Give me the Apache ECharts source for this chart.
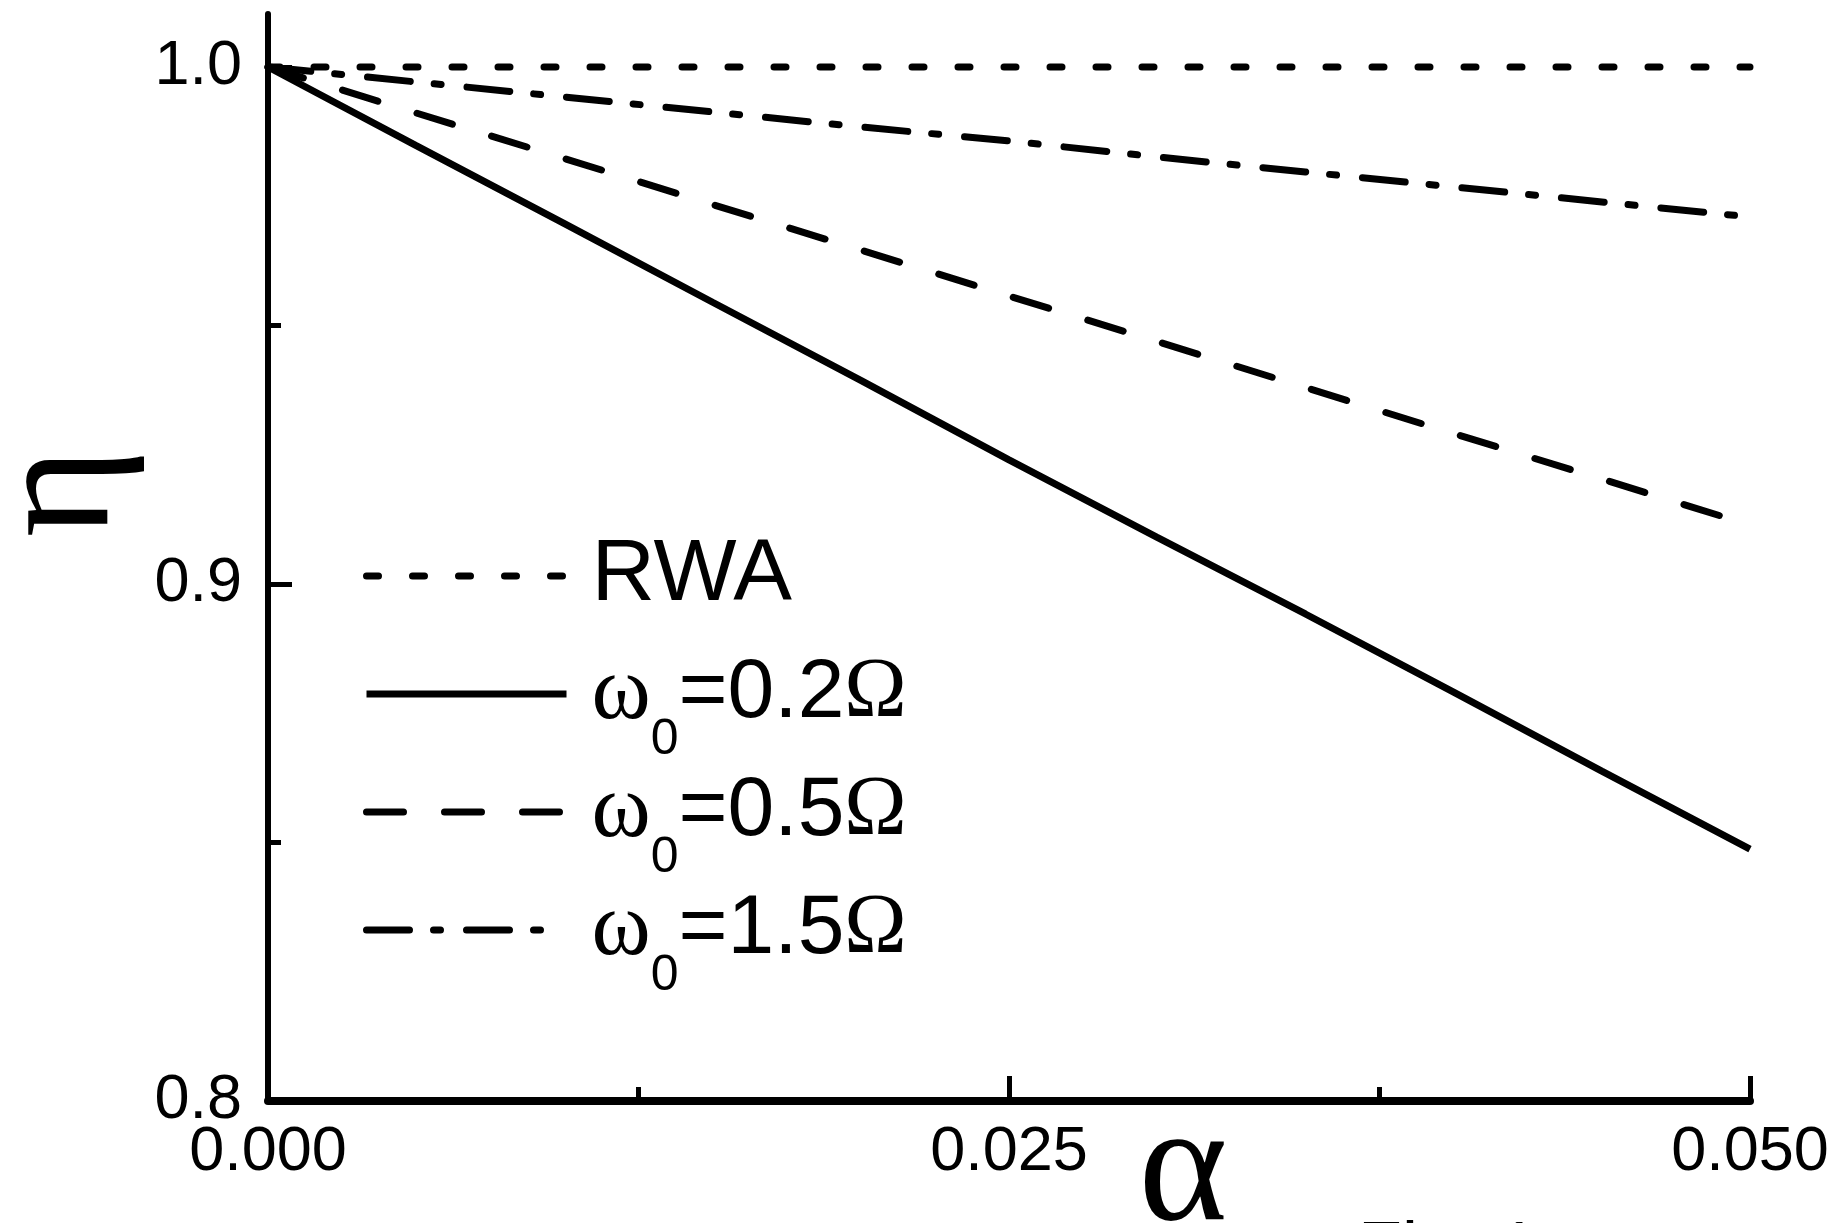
<!DOCTYPE html>
<html>
<head>
<meta charset="utf-8">
<script src="https://cdn.jsdelivr.net/npm/echarts@6/dist/echarts.min.js"></script>
<style>
html,body{margin:0;padding:0;background:#fff;}
#chart{width:1836px;height:1223px;}
</style>
</head>
<body>
<div id="chart"></div>
<script>
// ---- data ----
const alpha = [0, 0.005, 0.01, 0.015, 0.02, 0.025, 0.03, 0.035, 0.04, 0.045, 0.05];
const etaRWA = [1.0, 1.0, 1.0, 1.0, 1.0, 1.0, 1.0, 1.0, 1.0, 1.0, 1.0];
const eta02 = [1.0, 0.9848, 0.9697, 0.9545, 0.9394, 0.9240, 0.9090, 0.8942, 0.8791, 0.8638, 0.8487];
const eta05 = [1.0, 0.9911, 0.9823, 0.9734, 0.9646, 0.9557, 0.9469, 0.9380, 0.9291, 0.9203, 0.9114];
const eta15 = [1.0, 0.9971, 0.9942, 0.9913, 0.9884, 0.9857, 0.9826, 0.9797, 0.9768, 0.9739, 0.9710];
const seriesNames = ['RWA', 'ω0=0.2Ω', 'ω0=0.5Ω', 'ω0=1.5Ω'];
const legendRich = {
  'RWA': '{r|RWA}{s| }',
  'ω0=0.2Ω': '{g|ω}{s|0}{b|=0.2}{o|Ω}',
  'ω0=0.5Ω': '{g|ω}{s|0}{b|=0.5}{o|Ω}',
  'ω0=1.5Ω': '{g|ω}{s|0}{b|=1.5}{o|Ω}'
};
const yMajor = [0.8, 0.9, 1.0];
const yMinor = [0.85, 0.95];
const xMajor = [0, 0.025, 0.05];
const xMinor = [0.0125, 0.0375];

const SANS = '"Liberation Sans", Arial, sans-serif';
const SERIF = '"Liberation Serif", "Times New Roman", serif';

function pts(ys) { return alpha.map((a, i) => [a, ys[i]]); }

const chart = echarts.init(document.getElementById('chart'), null, {renderer: 'canvas'});

const yBase = {
  type: 'value', min: 0.8, max: 1.01025, position: 'left',
  splitLine: {show: false}
};
const xBase = {
  type: 'value', min: 0, max: 0.05, position: 'bottom',
  splitLine: {show: false}
};

const option = {
  animation: false,
  backgroundColor: '#ffffff',
  grid: {left: 268, right: 86, top: 14, bottom: 122, containLabel: false, outerBoundsMode: 'none'},
  xAxis: [
    Object.assign({}, xBase, {
      axisLine: {show: true, lineStyle: {color: '#000', width: 8}},
      axisTick: {show: true, inside: true, length: 25, customValues: xMajor, lineStyle: {color: '#000', width: 5}},
      axisLabel: {show: true, customValues: xMajor, formatter: v => v.toFixed(3), color: '#000',
                  fontSize: 63, fontFamily: SANS, margin: 20},
      name: 'α', nameLocation: 'middle', nameGap: 43, nameMoveOverlap: false,
      nameTextStyle: {fontFamily: SERIF, fontSize: 170, color: '#000', lineHeight: 60, padding: [0, 0, 0, 348]}
    }),
    Object.assign({}, xBase, {
      axisLine: {show: false},
      axisTick: {show: true, inside: true, length: 14, customValues: xMinor, lineStyle: {color: '#000', width: 5}},
      axisLabel: {show: false}
    })
  ],
  yAxis: [
    Object.assign({}, yBase, {
      axisLine: {show: true, lineStyle: {color: '#000', width: 6, cap: 'round'}},
      axisTick: {show: true, inside: true, length: 24, customValues: yMajor, lineStyle: {color: '#000', width: 5}},
      axisLabel: {show: true, customValues: yMajor, formatter: v => v.toFixed(1), color: '#000',
                  fontSize: 63, fontFamily: SANS, margin: 26},
      name: 'η', nameLocation: 'middle', nameRotate: 90, nameGap: 156, nameMoveOverlap: false,
      nameTextStyle: {fontFamily: SERIF, fontSize: 172, color: '#000', lineHeight: 100, padding: [0, 0, 0, 130]}
    }),
    Object.assign({}, yBase, {
      axisLine: {show: false},
      axisTick: {show: true, inside: true, length: 13, customValues: yMinor, lineStyle: {color: '#000', width: 5}},
      axisLabel: {show: false}
    })
  ],
  legend: {
    orient: 'vertical', left: 363, top: 505, padding: 0, itemGap: -24,
    itemWidth: 200, itemHeight: 14, selectedMode: false,
    data: seriesNames,
    formatter: name => legendRich[name],
    lineStyle: {width: 7},
    itemStyle: {opacity: 0},
    textStyle: {
      color: '#000',
      rich: {
        r: {fontFamily: SANS, fontSize: 88, lineHeight: 82, padding: [0, 0, 0, 20], color: '#000'},
        g: {fontFamily: SERIF, fontSize: 90, lineHeight: 82, padding: [0, 0, 0, 20], color: '#000'},
        s: {fontFamily: SANS, fontSize: 50, lineHeight: 30, padding: [92, 0, 0, 0], color: '#000'},
        b: {fontFamily: SANS, fontSize: 84, lineHeight: 82, color: '#000'},
        o: {fontFamily: SERIF, fontSize: 84, lineHeight: 82, color: '#000'}
      }
    }
  },
  graphic: [{
    type: 'text', left: 1358, top: 1216, silent: true,
    style: {text: 'Fig. 1', font: '72px ' + SANS, fill: '#000'}
  }],
  series: [
    {name: seriesNames[0], type: 'line', xAxisIndex: 0, yAxisIndex: 0, data: pts(etaRWA), showSymbol: false, symbol: 'none',
     lineStyle: {color: '#000', width: 7, type: [12, 34], cap: 'round'}, itemStyle: {color: '#000'}},
    {name: seriesNames[1], type: 'line', xAxisIndex: 0, yAxisIndex: 0, data: pts(eta02), showSymbol: false, symbol: 'none',
     lineStyle: {color: '#000', width: 7, type: 'solid', cap: 'butt'}, itemStyle: {color: '#000'}},
    {name: seriesNames[2], type: 'line', xAxisIndex: 0, yAxisIndex: 0, data: pts(eta05), showSymbol: false, symbol: 'none',
     lineStyle: {color: '#000', width: 7, type: [37, 41], cap: 'round'}, itemStyle: {color: '#000'}},
    {name: seriesNames[3], type: 'line', xAxisIndex: 0, yAxisIndex: 0, data: pts(eta15), showSymbol: false, symbol: 'none',
     lineStyle: {color: '#000', width: 7, type: [43, 24, 7, 26], cap: 'round'}, itemStyle: {color: '#000'}}
  ]
};
chart.setOption(option);
</script>
</body>
</html>
